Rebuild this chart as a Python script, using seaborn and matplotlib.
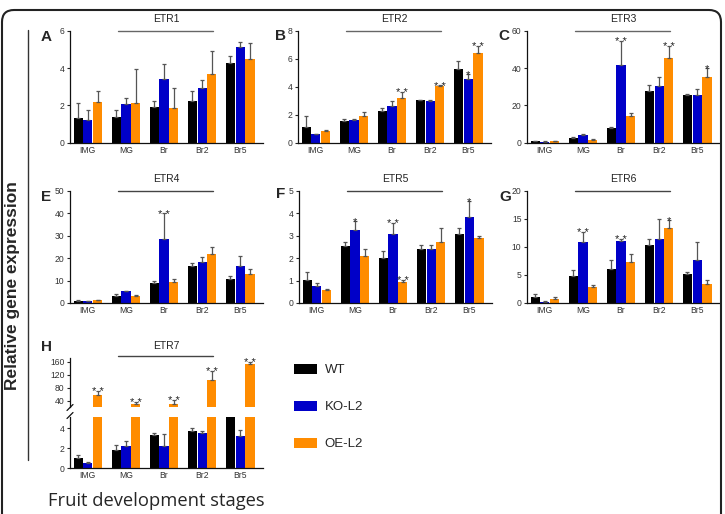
import numpy as np
import pandas as pd
import matplotlib
matplotlib.use("Agg")
import matplotlib.pyplot as plt
from matplotlib.patches import FancyBboxPatch, Patch
from matplotlib.lines import Line2D
import seaborn as sns

# stages and lines
stages = ['IMG', 'MG', 'Br', 'Br2', 'Br5']
lines = ['WT', 'KO-L2', 'OE-L2']
colors = ['#000000', '#0000c8', '#ff8c00']

# ETR1 (A)
etr1_wt = [1.34, 1.39, 1.93, 2.21, 4.29]
etr1_wt_sd = [0.76, 0.36, 0.30, 0.54, 0.35]
etr1_ko = [1.21, 2.07, 3.43, 2.91, 5.10]
etr1_ko_sd = [0.54, 0.31, 0.80, 0.45, 0.28]
etr1_oe = [2.20, 2.10, 1.86, 3.66, 4.46]
etr1_oe_sd = [0.57, 1.83, 1.07, 1.27, 0.88]

# ETR2 (B)
etr2_wt = [1.10, 1.56, 2.28, 3.03, 5.29]
etr2_wt_sd = [0.82, 0.12, 0.20, 0.05, 0.55]
etr2_ko = [0.60, 1.63, 2.60, 2.96, 4.52]
etr2_ko_sd = [0.02, 0.05, 0.36, 0.07, 0.41]
etr2_oe = [0.84, 1.92, 3.20, 4.04, 6.44]
etr2_oe_sd = [0.06, 0.24, 0.43, 0.05, 0.48]

# ETR3 (C)
etr3_wt = [0.7, 2.5, 7.7, 27.7, 25.5]
etr3_wt_sd = [0.3, 0.4, 0.9, 3.2, 0.6]
etr3_ko = [0.5, 3.9, 41.6, 30.5, 25.4]
etr3_ko_sd = [0.2, 0.6, 13.0, 4.5, 3.2]
etr3_oe = [0.7, 1.4, 14.3, 45.2, 35.0]
etr3_oe_sd = [0.2, 0.4, 1.8, 6.6, 4.8]

# ETR4 (E)
etr4_wt = [0.9, 3.3, 8.75, 16.5, 10.7]
etr4_wt_sd = [0.3, 0.7, 1.05, 1.2, 1.2]
etr4_ko = [0.7, 5.2, 28.5, 18.5, 16.6]
etr4_ko_sd = [0.2, 0.1, 11.5, 2.0, 4.2]
etr4_oe = [1.2, 3.0, 9.3, 21.8, 12.9]
etr4_oe_sd = [0.3, 0.6, 1.4, 3.4, 2.2]

# ETR5 (F)
etr5_wt = [1.04, 2.55, 2.02, 2.39, 3.07]
etr5_wt_sd = [0.33, 0.19, 0.28, 0.21, 0.27]
etr5_ko = [0.77, 3.25, 3.09, 2.40, 3.84]
etr5_ko_sd = [0.12, 0.41, 0.50, 0.20, 0.73]
etr5_oe = [0.59, 2.11, 0.95, 2.74, 2.88]
etr5_oe_sd = [0.03, 0.29, 0.09, 0.63, 0.09]

# ETR6 (G)
etr6_wt = [1.07, 4.87, 6.11, 10.39, 5.22]
etr6_wt_sd = [0.47, 1.06, 1.49, 0.95, 0.24]
etr6_ko = [0.24, 10.86, 11.04, 11.45, 7.72]
etr6_ko_sd = [0.05, 1.78, 0.41, 3.51, 3.14]
etr6_oe = [0.71, 2.85, 7.30, 13.47, 3.38]
etr6_oe_sd = [0.42, 0.41, 1.42, 1.37, 0.77]

# ETR7 (H), broken axis
etr7_wt = [1.0, 1.77, 3.3, 3.73, 5.3]
etr7_wt_sd = [0.33, 0.56, 0.2, 0.27, 0.0]
etr7_ko = [0.5, 2.23, 2.17, 3.5, 3.23]
etr7_ko_sd = [0.07, 0.44, 1.23, 0.23, 0.54]
etr7_oe = [56, 29, 29, 104, 153]
etr7_oe_sd = [13, 7, 13, 29, 7]

# significance marks: (stage index, line index, text)
stars_b = [(2, 2, '* *'), (3, 2, '* *'), (4, 1, '*'), (4, 2, '* *')]
stars_c = [(2, 1, '* *'), (3, 2, '* *'), (4, 2, '*')]
stars_e = [(2, 1, '* *')]
stars_f = [(1, 1, '*'), (2, 1, '* *'), (2, 2, '* *'), (4, 1, '*')]
stars_g = [(1, 1, '* *'), (2, 1, '* *'), (3, 2, '*')]
stars_h = [(0, 2, '* *'), (1, 2, '* *'), (2, 2, '* *'), (3, 2, '* *'), (4, 2, '* *')]

sns.set_style('ticks')
plt.rcParams['font.family'] = ['Liberation Sans', 'DejaVu Sans']

W, H = 725, 514
fig = plt.figure(figsize=(W / 100, H / 100), dpi=100)


def px_axes(x0, y_top, w, h):
    return fig.add_axes([x0 / W, 1 - (y_top + h) / H, w / W, h / H])


def make_df(wt, wt_sd, ko, ko_sd, oe, oe_sd):
    rows = []
    for name, v, e in zip(lines, [wt, ko, oe], [wt_sd, ko_sd, oe_sd]):
        for s, vv, ee in zip(stages, v, e):
            rows.append({'stage': s, 'line': name, 'value': vv, 'sd': ee})
    return pd.DataFrame(rows)


def bars(ax, df, stars=()):
    sns.barplot(data=df, x='stage', y='value', hue='line', hue_order=lines,
                palette=colors, width=0.77, gap=0.06, errorbar=None,
                saturation=1, linewidth=0, legend=False, ax=ax)
    tops = {}
    conts = list(ax.containers)
    for i, cont in enumerate(conts):
        sub = df[df['line'] == lines[i]]
        for j, (bar, v, e) in enumerate(zip(cont, sub['value'], sub['sd'])):
            xc = bar.get_x() + bar.get_width() / 2
            if e > 0:
                ax.errorbar(xc, v, yerr=[[0], [e]], fmt='none', ecolor='#555555',
                            elinewidth=0.9, capsize=1.6, capthick=0.9)
            tops[(j, i)] = (xc, v + e)
    for j, i, t in stars:
        xc, yt = tops[(j, i)]
        ax.annotate(t, xy=(xc, yt), xytext=(0, -3), textcoords='offset points',
                    ha='center', va='baseline', fontsize=8, color='#222222')
    ax.set_xlim(-0.47, 4.6)
    ax.set_xlabel('')
    ax.set_ylabel('')
    sns.despine(ax=ax)
    for sp in ['left', 'bottom']:
        ax.spines[sp].set_linewidth(0.9)
        ax.spines[sp].set_color('#111111')
    ax.tick_params(axis='y', length=2.5, width=0.8, pad=1.5, labelsize=6.2,
                   labelcolor='#333333')
    ax.tick_params(axis='x', length=0, pad=2.5, labelsize=6.2, labelcolor='#333333')


def title(ax, gene, letter, lx, ly, line_y=1.0, line_col='#666666'):
    ax.annotate(gene, xy=(0.5, 1.0), xycoords='axes fraction', xytext=(0, 5),
                textcoords='offset points', ha='center', va='bottom', fontsize=7.5,
                color='#222222')
    ax.plot([0.25, 0.74], [line_y, line_y], transform=ax.transAxes, clip_on=False,
            color=line_col, lw=1)
    fig.text(lx / W, 1 - ly / H, letter, fontsize=11, fontweight='bold',
             ha='center', va='center')


aw, ah = 193, 112
ax_a = px_axes(70, 30.7, aw, ah)
bars(ax_a, make_df(etr1_wt, etr1_wt_sd, etr1_ko, etr1_ko_sd, etr1_oe, etr1_oe_sd))
ax_a.set_ylim(0, 6)
ax_a.set_yticks([0, 2, 4, 6])
title(ax_a, 'ETR1', 'A', 46, 37)

ax_b = px_axes(298, 30.7, aw, ah)
bars(ax_b, make_df(etr2_wt, etr2_wt_sd, etr2_ko, etr2_ko_sd, etr2_oe, etr2_oe_sd), stars_b)
ax_b.set_ylim(0, 8)
ax_b.set_yticks([0, 2, 4, 6, 8])
title(ax_b, 'ETR2', 'B', 281, 36)

ax_c = px_axes(527, 30.7, aw, ah)
bars(ax_c, make_df(etr3_wt, etr3_wt_sd, etr3_ko, etr3_ko_sd, etr3_oe, etr3_oe_sd), stars_c)
ax_c.set_ylim(0, 60)
ax_c.set_yticks([0, 20, 40, 60])
title(ax_c, 'ETR3', 'C', 504, 36)

ax_e = px_axes(70, 191, aw, ah)
bars(ax_e, make_df(etr4_wt, etr4_wt_sd, etr4_ko, etr4_ko_sd, etr4_oe, etr4_oe_sd), stars_e)
ax_e.set_ylim(0, 50)
ax_e.set_yticks([0, 10, 20, 30, 40, 50])
title(ax_e, 'ETR4', 'E', 46, 197, line_col='#444444')

ax_f = px_axes(299, 191, aw, ah)
bars(ax_f, make_df(etr5_wt, etr5_wt_sd, etr5_ko, etr5_ko_sd, etr5_oe, etr5_oe_sd), stars_f)
ax_f.set_ylim(0, 5)
ax_f.set_yticks([0, 1, 2, 3, 4, 5])
title(ax_f, 'ETR5', 'F', 281, 194, line_col='#444444')

ax_g = px_axes(527, 191, aw, ah)
bars(ax_g, make_df(etr6_wt, etr6_wt_sd, etr6_ko, etr6_ko_sd, etr6_oe, etr6_oe_sd), stars_g)
ax_g.set_ylim(0, 20)
ax_g.set_yticks([0, 5, 10, 15, 20])
title(ax_g, 'ETR6', 'G', 505, 197, line_col='#444444')

# H: broken y axis
df_h = make_df(etr7_wt, etr7_wt_sd, etr7_ko, etr7_ko_sd, etr7_oe, etr7_oe_sd)
ax_hl = px_axes(70, 417, aw, 51)
bars(ax_hl, df_h)
ax_hl.set_ylim(0, 5.1)
ax_hl.set_yticks([0, 2, 4])
ax_hu = px_axes(70, 358, aw, 49)
bars(ax_hu, df_h, stars_h)
ax_hu.set_ylim(20, 172)
ax_hu.set_yticks([40, 80, 120, 160])
ax_hu.spines['bottom'].set_visible(False)
ax_hu.set_xticks([])
title(ax_hu, 'ETR7', 'H', 46, 347, line_y=1.05, line_col='#444444')
# break marks
for yb in (407.5, 415.5):
    fig.add_artist(Line2D([67 / W, 73 / W], [1 - (yb + 3) / H, 1 - (yb - 3) / H],
                          color='#111111', lw=0.9))

# legend
handles = [Patch(facecolor=c, edgecolor='none') for c in colors]
fig.legend(handles, lines, loc='upper left', bbox_to_anchor=(287 / W, 1 - 357 / H),
           frameon=False, fontsize=9.5, handlelength=1.75, handleheight=0.8,
           handletextpad=0.6, labelspacing=1.85, borderpad=0)

# shared labels, side line and frame
fig.text(13 / W, 1 - 286 / H, 'Relative gene expression', rotation=90,
         fontsize=12.5, fontweight='bold', ha='center', va='center')
fig.add_artist(Line2D([28 / W, 28 / W], [1 - 30 / H, 1 - 460 / H], color='#333333', lw=1))
fig.text(156 / W, 1 - 501 / H, 'Fruit development stages', fontsize=13.2,
         family=['Open Sans', 'DejaVu Sans'], ha='center', va='center')
frame = FancyBboxPatch((0.02, -0.5), 7.19, 5.54, boxstyle='round,pad=0,rounding_size=0.12',
                       transform=fig.dpi_scale_trans, facecolor='none',
                       edgecolor='#222222', lw=1.5)
fig.add_artist(frame)

fig.savefig('out.png', dpi=100)
